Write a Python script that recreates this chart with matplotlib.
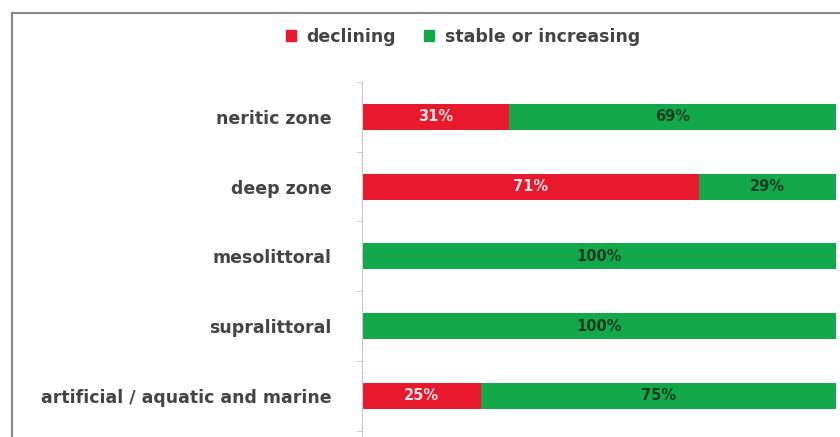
import matplotlib
matplotlib.use("Agg")
import matplotlib.pyplot as plt
from matplotlib.patches import Rectangle, Patch
import numpy as np

categories = ["neritic zone", "deep zone", "mesolittoral", "supralittoral",
              "artificial / aquatic and marine"]
declining = [31, 71, 0, 0, 25]
stable_or_increasing = [69, 29, 100, 100, 75]
series_names = ["declining", "stable or increasing"]

RED = "#E8192C"
GREEN = "#13A94A"

plt.rcParams["font.family"] = ["DejaVu Sans"]

fig = plt.figure(figsize=(8.4, 4.37), dpi=100)

# grey frame around the chart area (open at right and bottom edges)
fig.patches.append(Rectangle((12 / 840, -0.1), 2, 1 - 13 / 437 + 0.1,
                             transform=fig.transFigure, fill=False,
                             edgecolor="#8a8a8a", linewidth=1.6))

ax = fig.add_axes([362 / 840, 0.0, (836 - 362) / 840, (437 - 82) / 437])
y = np.arange(len(categories))
h = 0.37
ax.barh(y, declining, height=h, color=RED, label=series_names[0])
ax.barh(y, stable_or_increasing, left=declining, height=h, color=GREEN,
        label=series_names[1])

for i in range(len(categories)):
    d = declining[i]
    s = stable_or_increasing[i]
    if d > 0:
        ax.text(d / 2, y[i], f"{d}%", ha="center", va="center",
                color="#fbe3e5", fontsize=10.5, fontweight="bold")
    if s > 0:
        ax.text(d + s / 2, y[i], f"{s}%", ha="center", va="center",
                color="#173b22", fontsize=10.5, fontweight="bold")

ax.set_xlim(0, 100)
ax.set_ylim(4.59, -0.5)
ax.set_yticks(y)
ax.set_yticklabels(categories, fontsize=12.5, color="#444444", fontweight="bold")
ax.set_yticks(np.arange(-0.5, 5, 1), minor=True)
ax.tick_params(axis="y", which="major", length=0, pad=22)
ax.tick_params(axis="y", which="minor", length=4, color="#c8c8c8")
ax.set_xticks([])
for side in ["top", "right", "bottom"]:
    ax.spines[side].set_visible(False)
ax.spines["left"].set_color("#c8c8c8")

handles = [Patch(color=RED), Patch(color=GREEN)]
leg = fig.legend(handles, series_names, loc="center",
                 bbox_to_anchor=(463 / 840, 1 - 37 / 437),
                 ncol=2, frameon=False, handlelength=0.6, handleheight=0.6,
                 columnspacing=1.6, handletextpad=0.6, labelcolor="#444444",
                 prop={"size": 12.5, "weight": "bold"})

fig.savefig("out.png", dpi=100)
